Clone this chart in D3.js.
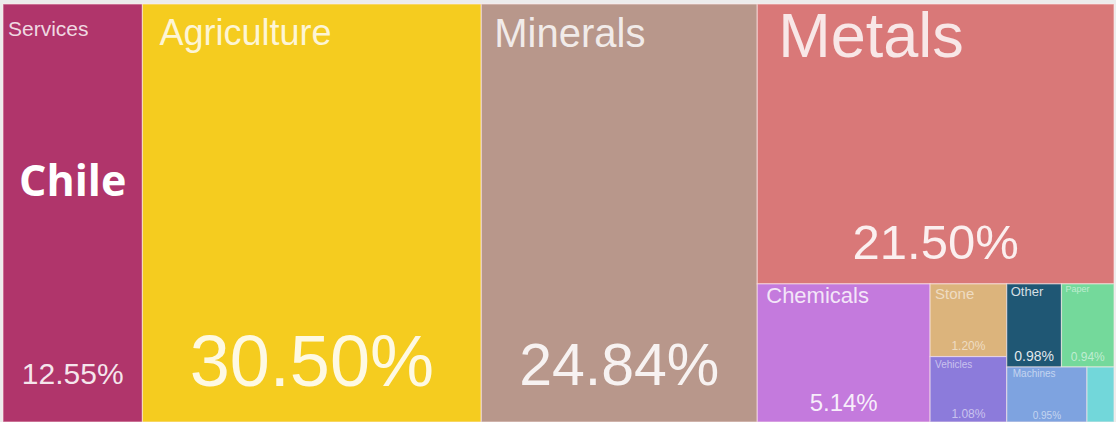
<!DOCTYPE html>
<html>
<head>
<meta charset="utf-8">
<script src="https://cdn.jsdelivr.net/npm/d3@7"></script>
<style>
  html, body { margin: 0; padding: 0; background: #ececec; }
  svg { display: block; }
</style>
</head>
<body>
<svg id="chart" width="1116" height="422"></svg>
<script>
// Chile export shares by product group (percent of total)
const categories = ["Services", "Agriculture", "Minerals", "Metals", "Chemicals",
                    "Stone", "Vehicles", "Other", "Paper", "Machines", "Plastics"];
const shares = [12.55, 30.50, 24.84, 21.50, 5.14, 1.20, 1.08, 0.98, 0.94, 0.95, 0.32];
const colors = ["#B0356B", "#F5CC1F", "#B8978B", "#D97878", "#C47ADD",
                "#DCB47C", "#8C7BDB", "#1F5774", "#74D99B", "#7EA3E0", "#72D7DA"];
const country = "Chile";

// Nesting of the tiles: "dice" splits left-to-right, "slice" top-to-bottom.
const nesting = {dir: "dice", children: [0, 1, 2,
  {dir: "slice", children: [3,
    {dir: "dice", children: [4,
      {dir: "dice", children: [
        {dir: "slice", children: [5, 6]},
        {dir: "slice", children: [
          {dir: "dice", children: [7, 8]},
          {dir: "dice", children: [9, 10]}
        ]}
      ]}
    ]}
  ]}
]};

// Text styling per tile: name label [size, dx, dy from top], value label [size, dy from bottom]
const textStyle = {
  Services:    {label: [21, 5, 32],  pct: [30, 38]},
  Agriculture: {label: [36, 17, 41], pct: [72, 36]},
  Minerals:    {label: [40, 13, 43], pct: [59, 37]},
  Metals:      {label: [63, 21, 53], pct: [49, 25]},
  Chemicals:   {label: [22, 9, 19],  pct: [24, 11]},
  Stone:       {label: [15, 5, 15],  pct: [12, 7],  faint: true},
  Vehicles:    {label: [10, 5, 11],  pct: [12, 4],  faint: true},
  Other:       {label: [13, 4, 12],  pct: [14, 6]},
  Paper:       {label: [9, 4, 8],    pct: [12, 6],  faint: true},
  Machines:    {label: [10, 6, 10],  pct: [10, 3],  faint: true},
  Plastics:    null
};

function build(node) {
  if (typeof node === "number") {
    return {name: categories[node], value: shares[node], color: colors[node]};
  }
  return {dir: node.dir, children: node.children.map(build)};
}

const svg = d3.select("#chart");
const frame = {left: 3, top: 4, right: 1114, bottom: 422};

const root = d3.hierarchy(build(nesting))
  .sum(d => d.value || 0);

d3.treemap()
  .size([frame.right - frame.left, frame.bottom - frame.top])
  .tile((node, x0, y0, x1, y1) => {
    (node.data.dir === "slice" ? d3.treemapSlice : d3.treemapDice)(node, x0, y0, x1, y1);
  })
  (root);

const leaves = root.leaves();

const cell = svg.append("g")
  .attr("transform", `translate(${frame.left},${frame.top})`)
  .selectAll("g")
  .data(leaves)
  .join("g");

cell.append("rect")
  .attr("x", d => d.x0)
  .attr("y", d => d.y0)
  .attr("width", d => d.x1 - d.x0)
  .attr("height", d => d.y1 - d.y0)
  .attr("fill", d => d.data.color)
  .attr("stroke", "rgba(255,235,235,0.55)")
  .attr("stroke-width", 1.2);

const fmt = v => d3.format(".2f")(v) + "%";
const font = "'Liberation Sans', Arial, sans-serif";

cell.filter(d => textStyle[d.data.name])
  .append("text")
  .attr("x", d => d.x0 + textStyle[d.data.name].label[1])
  .attr("y", d => d.y0 + textStyle[d.data.name].label[2])
  .attr("font-family", font)
  .attr("font-size", d => textStyle[d.data.name].label[0])
  .attr("fill", "#fff")
  .attr("fill-opacity", d => textStyle[d.data.name].faint ? 0.55 : 0.82)
  .text(d => d.data.name);

cell.filter(d => textStyle[d.data.name])
  .append("text")
  .attr("x", d => (d.x0 + d.x1) / 2)
  .attr("y", d => d.y1 - textStyle[d.data.name].pct[1])
  .attr("text-anchor", "middle")
  .attr("font-family", font)
  .attr("font-size", d => textStyle[d.data.name].pct[0])
  .attr("fill", "#fff")
  .attr("fill-opacity", d => textStyle[d.data.name].faint ? 0.55 : 0.88)
  .text(d => fmt(d.data.value));

// Country title over the first tile
svg.append("text")
  .attr("x", 19)
  .attr("y", 196)
  .attr("font-family", "'Open Sans', 'Liberation Sans', Arial, sans-serif")
  .attr("font-weight", "bold")
  .attr("font-size", 43)
  .attr("fill", "#fff")
  .text(country);
</script>
</body>
</html>
